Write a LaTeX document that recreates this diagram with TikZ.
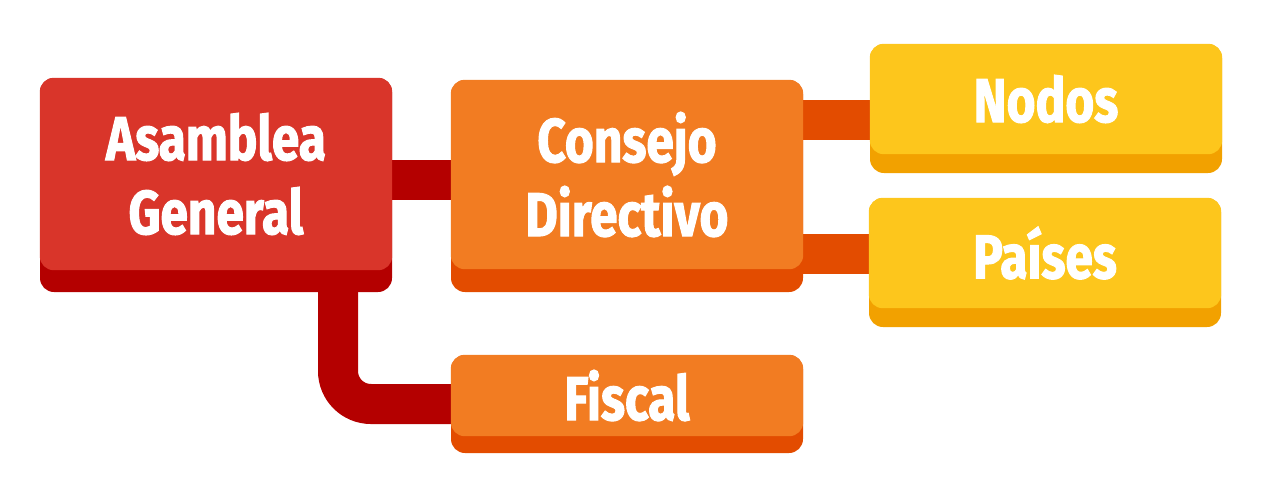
\documentclass[tikz,border=0pt]{standalone}
\usepackage{fontspec}
\setmainfont{Fira Sans}[FakeStretch=0.8, BoldFeatures={FakeBold=1.6}]
\definecolor{rface}{RGB}{217,53,42}
\definecolor{rdark}{RGB}{180,0,0}
\definecolor{oface}{RGB}{242,124,34}
\definecolor{odark}{RGB}{227,76,0}
\definecolor{yface}{RGB}{253,198,28}
\definecolor{ydark}{RGB}{242,161,0}
\tikzset{
  boxbase/.style={rounded corners=14pt, inner sep=0pt, minimum width=352pt},
  lbl/.style={text=white, font=\fontsize{62}{74}\selectfont\bfseries, align=center, inner sep=0pt},
  conn/.style={line width=40pt},
}
\newcommand{\facebox}[4]{% name, face colour, shadow height, text
  \fill[#2, rounded corners=14pt] (#1.north west) rectangle ([yshift=#3]#1.south east);
  \path ([yshift=#3/2]#1.center) node[lbl] (#1t) {#4};
}
\begin{document}
\begin{tikzpicture}[x=1pt,y=-1pt]
\useasboundingbox (0,0) rectangle (1263,499);
% boxes (shadow layer)
\node[boxbase, fill=rdark, minimum height=214pt] (ag) at (216,185) {};
\node[boxbase, fill=odark, minimum height=212pt] (cd) at (627,186) {};
\node[boxbase, fill=odark, minimum height=98pt] (fi) at (627,404) {};
\node[boxbase, fill=ydark, minimum height=129pt] (no) at (1046,108.5) {};
\node[boxbase, fill=ydark, minimum height=129pt] (pa) at (1045,262.5) {};
% connectors
\draw[conn, rdark] (ag.east |- 0,179.5) -- (cd.west |- 0,179.5);
\draw[conn, odark] (cd.east |- 0,119.5) -- (no.west |- 0,119.5);
\draw[conn, odark] (cd.east |- 0,254) -- (pa.west |- 0,254);
\draw[conn, rdark, rounded corners=33pt] (ag.south -| 338,0) -- (338,404) -- (fi.west |- 0,404);
% faces and labels
\facebox{ag}{rface}{22pt}{Asamblea\\General}
\facebox{cd}{oface}{23pt}{Consejo\\Directivo}
\facebox{fi}{oface}{17pt}{Fiscal}
\facebox{no}{yface}{19pt}{Nodos}
\facebox{pa}{yface}{19pt}{Países}
\end{tikzpicture}
\end{document}
